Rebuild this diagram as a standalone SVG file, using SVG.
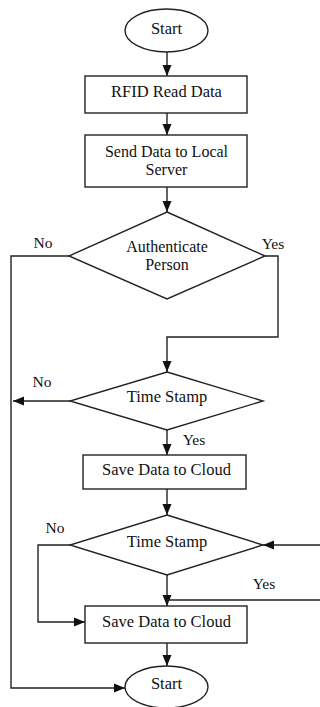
<svg xmlns="http://www.w3.org/2000/svg" width="320" height="707" viewBox="0 0 320 707">
<style>
.s{fill:#fff;stroke:#222;stroke-width:1.4}
.t{font-family:"Liberation Serif","Times New Roman",serif;font-size:16.5px;fill:#111;text-anchor:middle}
.m{font-size:16px}
.l{font-size:15.5px}
.c{fill:none;stroke:#222;stroke-width:1.4}
</style>
<defs>
<marker id="a" markerUnits="userSpaceOnUse" markerWidth="12" markerHeight="12" viewBox="0 0 12 12" refX="11" refY="6" orient="auto">
<path d="M0,1.5 L11,6 L0,10.5 Z" fill="#111"/>
</marker>
</defs>
<rect width="320" height="707" fill="#fff"/>
<g id="connectors">
<line class="c" x1="167" y1="52" x2="167" y2="76" marker-end="url(#a)"/>
<line class="c" x1="167" y1="113" x2="167" y2="135" marker-end="url(#a)"/>
<line class="c" x1="167" y1="187" x2="167" y2="212" marker-end="url(#a)"/>
<polyline class="c" points="69,256 11,256 11,688 125,688" marker-end="url(#a)"/>
<polyline class="c" points="265,256 278,256 278,337 167,337 167,372" marker-end="url(#a)"/>
<line class="c" x1="70" y1="401" x2="13" y2="401" marker-end="url(#a)"/>
<line class="c" x1="167" y1="430" x2="167" y2="455" marker-end="url(#a)"/>
<line class="c" x1="167" y1="489" x2="167" y2="515" marker-end="url(#a)"/>
<polyline class="c" points="70,545 38,545 38,622 85,622" marker-end="url(#a)"/>
<line class="c" x1="320" y1="545" x2="263" y2="545" marker-end="url(#a)"/>
<line class="c" x1="167" y1="575" x2="167" y2="606" marker-end="url(#a)"/>
<polyline class="c" points="167,600 320,600"/>
<line class="c" x1="167" y1="643" x2="167" y2="666" marker-end="url(#a)"/>
<text class="t l" x="43" y="247.5">No</text>
<text class="t l" x="273" y="248.5">Yes</text>
<text class="t l" x="42" y="386.5">No</text>
<text class="t l" x="194" y="444.5">Yes</text>
<text class="t l" x="55" y="532.5">No</text>
<text class="t l" x="264" y="588.5">Yes</text>
</g>
<g id="start">
<ellipse class="s" cx="166.5" cy="30.5" rx="41.5" ry="21.5"/>
<text class="t" x="166.5" y="33.5">Start</text>
</g>
<g id="rfid">
<rect class="s" x="85" y="76" width="162" height="37"/>
<text class="t" x="166.5" y="97">RFID Read Data</text>
</g>
<g id="send">
<rect class="s" x="85" y="135" width="162" height="52"/>
<text class="t m" x="166.5" y="156.5">Send Data to Local</text>
<text class="t m" x="166.5" y="175">Server</text>
</g>
<g id="auth">
<polygon class="s" points="167,212 265,256 167,299 69,256"/>
<text class="t m" x="167" y="251.5">Authenticate</text>
<text class="t m" x="167" y="270">Person</text>
</g>
<g id="ts1">
<polygon class="s" points="167,372 263,401 167,430 70,401"/>
<text class="t" x="167" y="401.5">Time Stamp</text>
</g>
<g id="save1">
<rect class="s" x="83" y="455" width="163" height="34"/>
<text class="t" x="166.5" y="474.5">Save Data to Cloud</text>
</g>
<g id="ts2">
<polygon class="s" points="167,515 263,545 167,575 70,545"/>
<text class="t" x="167" y="546.5">Time Stamp</text>
</g>
<g id="save2">
<rect class="s" x="85" y="606" width="162" height="37"/>
<text class="t" x="166.5" y="626.5">Save Data to Cloud</text>
</g>
<g id="end">
<ellipse class="s" cx="166.5" cy="687" rx="41.5" ry="21"/>
<text class="t" x="166.5" y="688.5">Start</text>
</g>
</svg>
